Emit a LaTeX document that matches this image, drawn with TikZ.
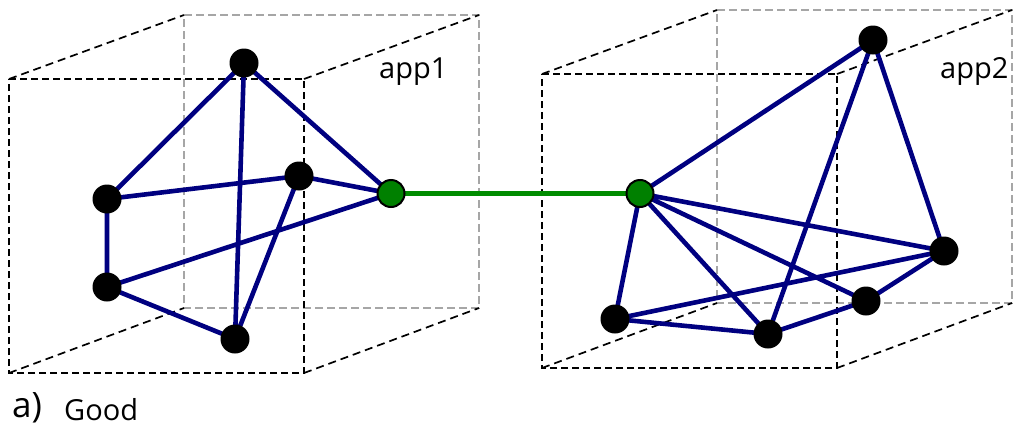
\documentclass[tikz,border=0pt]{standalone}
\usepackage{fontspec}
\setmainfont{Open Sans}
\usetikzlibrary{backgrounds}
\begin{document}
\begin{tikzpicture}[x=1pt,y=-1pt,
  frontbox/.style={draw=black,line width=1.7pt,dash pattern=on 7pt off 4pt},
  backbox/.style={draw=black!35,line width=1.9pt,dash pattern=on 8pt off 4pt},
  depth/.style={draw=black,line width=1.7pt,dash pattern=on 8pt off 5pt},
  vert/.style={circle,fill=black,inner sep=0pt,minimum size=29pt},
  gate/.style={circle,fill=green!50!black,draw=black,line width=2pt,inner sep=0pt,minimum size=27pt},
  link/.style={draw=blue!50!black,line width=4.6pt},
  bridge/.style={draw=green!55!black,line width=4.2pt},
  lbl/.style={font=\fontsize{29}{32}\selectfont,inner sep=0pt}]
\useasboundingbox (0,0) rectangle (1024,434);

% vertices of the left graph
\node[vert] (a1) at (244,63) {};
\node[vert] (a2) at (107,199) {};
\node[vert] (a3) at (299,176) {};
\node[vert] (a4) at (107,287) {};
\node[vert] (a5) at (235,339) {};
\node[gate] (g1) at (391,193.5) {};

% vertices of the right graph
\node[vert] (b1) at (873,40) {};
\node[vert] (b2) at (944,251) {};
\node[vert] (b3) at (866,301) {};
\node[vert] (b4) at (768,334) {};
\node[vert] (b5) at (615,319) {};
\node[gate] (g2) at (640,193.5) {};

\begin{scope}[on background layer]
  % left box
  \coordinate (LA) at (9,79);    \coordinate (LB) at (304,79);
  \coordinate (LC) at (304,373); \coordinate (LD) at (9,373);
  \coordinate (LE) at (184,15);  \coordinate (LF) at (479,15);
  \coordinate (LG) at (479,308); \coordinate (LH) at (184,308);
  \draw[backbox] (LE) -- (LF) -- (LG) -- (LH) -- cycle;
  \draw[depth] (LA) -- (LE) (LB) -- (LF) (LC) -- (LG) (LD) -- (LH);
  \draw[frontbox] (LA) -- (LB) -- (LC) -- (LD) -- cycle;

  % right box
  \coordinate (RA) at (542,74);   \coordinate (RB) at (837,74);
  \coordinate (RC) at (837,368);  \coordinate (RD) at (542,368);
  \coordinate (RE) at (717,10);   \coordinate (RF) at (1012,10);
  \coordinate (RG) at (1012,303); \coordinate (RH) at (717,303);
  \draw[backbox] (RE) -- (RF) -- (RG) -- (RH) -- cycle;
  \draw[depth] (RA) -- (RE) (RB) -- (RF) (RC) -- (RG) (RD) -- (RH);
  \draw[frontbox] (RA) -- (RB) -- (RC) -- (RD) -- cycle;

  % edges
  \path[link] (a1.center) -- (a2.center) (a1.center) -- (a5.center) (a1.center) -- (g1.center)
    (a2.center) -- (a3.center) (a2.center) -- (a4.center) (a3.center) -- (g1.center)
    (a3.center) -- (a5.center) (a4.center) -- (g1.center) (a4.center) -- (a5.center);
  \path[link] (g2.center) -- (b1.center) (g2.center) -- (b5.center) (g2.center) -- (b4.center)
    (g2.center) -- (b3.center) (g2.center) -- (b2.center)
    (b1.center) -- (b4.center) (b1.center) -- (b2.center) (b2.center) -- (b5.center)
    (b2.center) -- (b3.center) (b3.center) -- (b4.center) (b4.center) -- (b5.center);
  \path[bridge] (g1.center) -- (g2.center);
\end{scope}

% labels
\node[lbl,anchor=base west] (t1) at (379,78) {app1};
\node[lbl,anchor=base west] (t2) at (940,78) {app2};
\node[lbl,anchor=base west,font=\fontsize{35}{38}\selectfont] (t3) at (12,417) {a)};
\node[lbl,anchor=base west] (t4) at (64,420) {Good};
\end{tikzpicture}
\end{document}
